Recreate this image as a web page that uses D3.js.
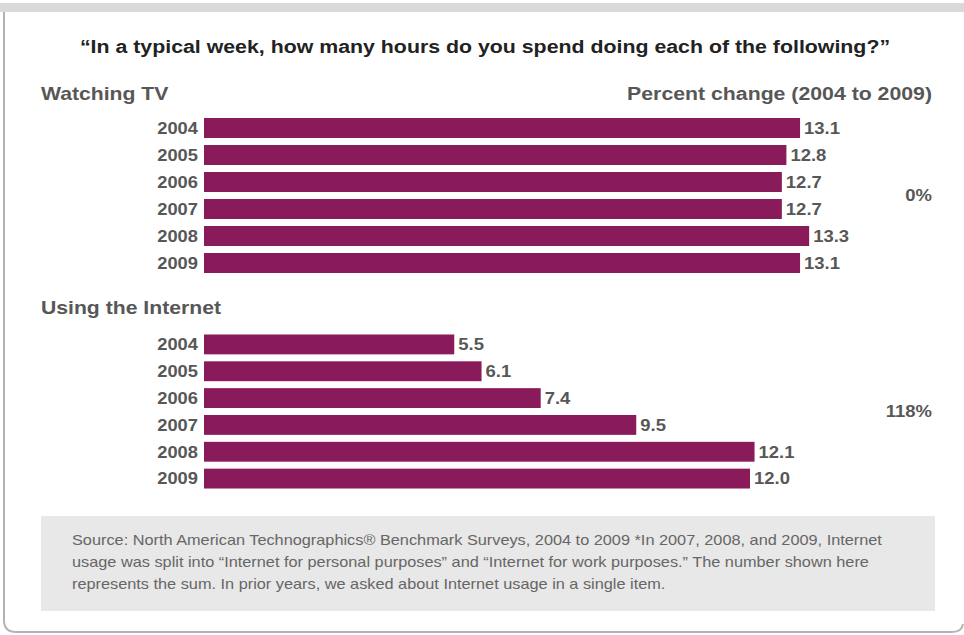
<!DOCTYPE html>
<html><head><meta charset="utf-8">
<script src="https://cdn.jsdelivr.net/npm/d3@7/dist/d3.min.js"></script>
<style>body{margin:0;background:#fff;}svg{display:block;font-family:"Liberation Sans",Arial,sans-serif;}</style>
</head><body>
<script>
const years = ["2004","2005","2006","2007","2008","2009"];
const tvValues = [13.1, 12.8, 12.7, 12.7, 13.3, 13.1];
const internetValues = [5.5, 6.1, 7.4, 9.5, 12.1, 12.0];
const tvChange = "0%";
const internetChange = "118%";
const title = "\u201CIn a typical week, how many hours do you spend doing each of the following?\u201D";
const sourceLines = [
  "Source: North American Technographics\u00AE Benchmark Surveys, 2004 to 2009 *In 2007, 2008, and 2009, Internet",
  "usage was split into \u201CInternet for personal purposes\u201D and \u201CInternet for work purposes.\u201D The number shown here",
  "represents the sum. In prior years, we asked about Internet usage in a single item."
];

const W = 964, H = 635;
const svg = d3.select("body").append("svg").attr("width", W).attr("height", H);

// horizontally widened type, as in the reference
function wideText(parent, k, xFn) {
  return parent.attr("transform", `scale(${k},1)`).attr("x", (d, i) => xFn(d, i) / k);
}

// frame
svg.append("rect").attr("x", 0).attr("y", 3).attr("width", W).attr("height", 9).attr("fill", "#d9d9d9");
svg.append("path")
  .attr("d", "M4,12 V620 Q4,632 16,632 H952 Q962,632 963,624")
  .attr("fill", "none").attr("stroke", "#b3b3b3").attr("stroke-width", 2);

wideText(svg.append("text").attr("y", 53).attr("text-anchor", "middle")
  .attr("font-size", 18.5).attr("font-weight", "bold").attr("fill", "#222").text(title), 1.153, () => 485);

const x = d3.scaleLinear().domain([0, 14]).range([204, 841]);
const barColor = "#8a1b5b";
const textGray = "#575757";

function panel(label, values, change, yRange, labelY, showHeader) {
  const y = d3.scaleBand().domain(years).range(yRange).paddingInner(0.26).paddingOuter(0.13);
  wideText(svg.append("text").attr("y", labelY).attr("font-size", 18.5)
    .attr("font-weight", "bold").attr("fill", textGray).text(label), 1.145, () => 41);
  if (showHeader) {
    wideText(svg.append("text").attr("y", labelY).attr("text-anchor", "end")
      .attr("font-size", 18.5).attr("font-weight", "bold").attr("fill", textGray)
      .text("Percent change (2004 to 2009)"), 1.15, () => 932);
  }
  const g = svg.append("g");
  const data = years.map((yr, i) => ({yr, v: values[i]}));
  g.selectAll("rect").data(data).join("rect")
    .attr("x", x(0)).attr("y", d => y(d.yr))
    .attr("width", d => x(d.v) - x(0)).attr("height", y.bandwidth())
    .attr("fill", barColor);
  wideText(g.selectAll("text.yr").data(data).join("text").attr("class", "yr")
    .attr("y", d => y(d.yr) + y.bandwidth() / 2)
    .attr("dy", "0.35em").attr("text-anchor", "end")
    .attr("font-size", 16.5).attr("font-weight", "bold").attr("fill", textGray).text(d => d.yr), 1.11, () => x(0) - 6);
  wideText(g.selectAll("text.val").data(data).join("text").attr("class", "val")
    .attr("y", d => y(d.yr) + y.bandwidth() / 2)
    .attr("dy", "0.35em")
    .attr("font-size", 16.5).attr("font-weight", "bold").attr("fill", textGray).text(d => d.v.toFixed(1)), 1.12, d => x(d.v) + 4);
  const midY = (y("2006") + y("2007") + y.bandwidth()) / 2;
  wideText(svg.append("text").attr("y", midY).attr("dy", "0.35em").attr("text-anchor", "end")
    .attr("font-size", 16.5).attr("font-weight", "bold").attr("fill", textGray).text(change), 1.12, () => 932);
}

panel("Watching TV", tvValues, tvChange, [114.5, 276.5], 100, true);
panel("Using the Internet", internetValues, internetChange, [331, 492], 314, false);

svg.append("rect").attr("x", 41).attr("y", 516).attr("width", 894).attr("height", 95).attr("fill", "#e8e8e8");
wideText(svg.append("g").selectAll("text").data(sourceLines).join("text")
  .attr("y", (d, i) => 545 + i * 22)
  .attr("font-size", 14).attr("fill", "#666").text(d => d), 1.165, () => 72);
</script>
</body></html>
